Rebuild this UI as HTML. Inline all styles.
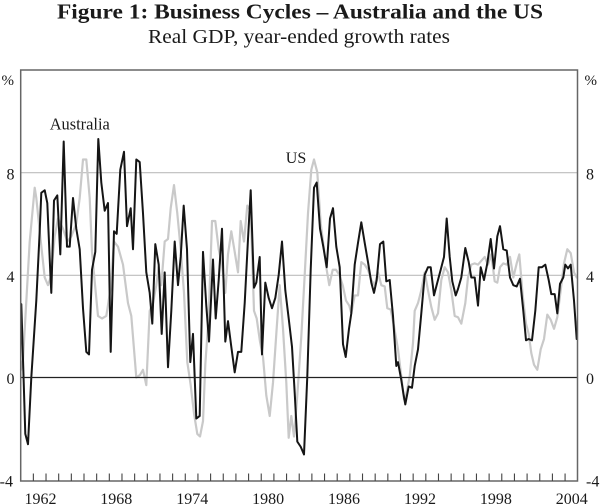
<!DOCTYPE html>
<html>
<head>
<meta charset="utf-8">
<style>
html,body{margin:0;padding:0;background:#fff;}
svg{display:block;}
text{font-family:"Liberation Serif","Times New Roman",serif;fill:#1a1a1a;}
</style>
</head>
<body>
<svg width="600" height="504" viewBox="0 0 600 504" xmlns="http://www.w3.org/2000/svg">
<rect width="600" height="504" fill="#fff"/>
<!-- Titles -->
<text x="300" y="18.5" font-size="21" font-weight="bold" text-anchor="middle" textLength="486" lengthAdjust="spacingAndGlyphs">Figure 1: Business Cycles – Australia and the US</text>
<text x="299" y="43" font-size="20" text-anchor="middle" textLength="302" lengthAdjust="spacingAndGlyphs">Real GDP, year-ended growth rates</text>

<!-- gridlines -->
<line x1="20.7" y1="172.7" x2="577.5" y2="172.7" stroke="#bdbdbd" stroke-width="1.2"/>
<line x1="20.7" y1="275.3" x2="577.5" y2="275.3" stroke="#bdbdbd" stroke-width="1.2"/>

<!-- series -->
<g transform="translate(0,377.5) scale(1,-25.65)" fill="none" stroke-linejoin="round" stroke-linecap="round">
<polyline vector-effect="non-scaling-stroke" stroke="#c9c9c9" stroke-width="2.2" points="21,0.3 23,0.7 29.7,5.3 34.7,7.4 36.3,7 39.7,5.7 44.7,3.9 48,3.6 50.7,3.9 54.7,5.5 58,6.2 63,5.8 67.3,5.3 71.3,5.5 76.3,6 79.7,7 83,8.5 86.3,8.5 89.7,7 92,4.9 95.3,3.5 98,2.4 102,2.3 106.3,2.4 110.7,3.5 114,5.3 118,5.1 123,4.4 126.3,3.4 128,2.9 131.3,2.4 136.3,0 140,0.1 143,0.3 146.3,-0.3 149.7,2.6 153,2.9 156.3,3.6 158.7,4.3 161.3,3.6 164.7,5.3 168,5.4 170.7,6.6 174,7.5 177.3,6.4 180.7,5 184,3.3 187.3,0.6 190.7,-0.3 194,-1.4 197.3,-2.2 200,-2.3 203,-1.7 205.3,0.5 208.7,2.4 212,6.1 215.3,6.1 218.7,5 222,4.4 225.3,3.3 228,4.8 231.3,5.7 234.7,4.9 238,4.1 240.7,6.1 244,5.3 247.3,6.7 250.7,6.5 254,2.6 256.7,2.3 260,1.4 263,0.8 266.3,-0.7 269.7,-1.5 273,-0.2 276.3,1.7 279.7,3.6 283,1.9 286.3,-0.2 288.7,-2.35 291.3,-1.5 294,-2.3 297.3,-0.7 301.3,1.6 304.7,4 308,6.4 311.3,8.1 314,8.5 317.3,8 320.7,6 324,5 326.7,4.2 329.3,3.6 332.7,4.2 336,4.2 339.3,4 342.7,3.6 346,3 349.3,2.8 351.3,2.5 354.7,3.2 358,3.2 361.3,4.5 364.7,4.4 368,4.2 371.3,3.8 374.7,3.6 378,4.1 381.3,3.6 384.7,3.55 387.3,2.7 390.7,2.65 394,2 398,1.1 401.3,0.05 404,-0.85 406.3,-0.65 409.7,0.05 413,1.35 414.7,2.6 418,2.9 421.3,3.4 424.7,4.1 428,3.4 431.3,2.75 434.7,2.25 438,2.5 441.3,3.8 444.7,4.3 448,4.1 451.3,3.4 454.7,2.4 458,2.35 461.3,2.1 465.3,2.9 468,3.9 471.3,4.4 474.7,4.45 478,4.4 481.3,4.55 484.7,4.7 488,4.4 491.3,4.8 494.7,3.75 497.3,3.7 500,4.3 503.3,4.45 506.7,4.4 510,4.7 513.3,3.9 516.7,4.45 519.3,4.8 522.7,3.2 526,2.1 528.7,1.7 531.3,0.95 534,0.5 537.3,0.3 540.7,1.1 544,1.5 547.3,2.45 550.7,2.25 554,1.9 557.3,2.35 560.7,3.4 564,4.45 567.3,5 570.7,4.85 574,4.1 576.7,3.9"/>
<polyline vector-effect="non-scaling-stroke" stroke="#151515" stroke-width="2" points="21.3,2.86 25.3,-2.2 28,-2.6 31.3,0 36.3,3 39.7,5.7 41.3,7.2 44.7,7.3 47.3,6.8 50.3,4.1 51.3,3.3 54,6.9 57.3,7.1 60.3,4.8 63.7,9.2 67,5.1 69.7,5.1 73,7 76.3,5.8 79.7,5 83,2.7 86.3,1 89,0.9 92,4.2 95.3,4.9 98.3,9.3 101.3,7.6 104.7,6.5 108,6.8 110.7,1 114,5.7 116.7,5.6 120.3,8.1 124,8.8 127,5.9 130.7,6.6 133,5 136.3,8.5 139.7,8.4 143,6.4 146.3,4.1 149.7,3.3 152.3,2.1 155.3,5.2 158.7,4.4 161.7,1.7 164.7,4.1 168,0.4 171.3,2.6 174.7,5.3 178,3.6 180.7,4.7 183.7,6.7 187,5 190.3,0.6 193,1.7 196.3,-1.6 199.7,-1.5 203,4.9 206.3,2.8 209,1.4 213,4.6 215.7,2.3 218.7,3.8 222,5.8 225.3,1.4 228,2.2 231.3,1.2 234.7,0.2 238,1 241.3,1 244.7,2.9 248,5.4 250.7,7.3 254,3.5 256.3,3.7 259.7,4.7 262,0.9 265.3,3.7 268.7,3.1 272,2.7 275.3,3.1 278.7,4 282,5.3 285.3,3.4 288.7,2.3 292,1.2 294.7,-0.6 297.3,-2.5 300.7,-2.7 304,-3 307.3,0.05 310.7,4.2 314,7.4 316.7,7.6 320,5.8 323.3,5.1 326.7,4.3 330,6.2 333,6.6 336.3,5.1 339.7,4.3 343,1.3 345.7,0.8 349,1.9 351.3,2.5 354.7,4.4 358,5.25 361.3,6.05 364.7,5.25 368,4.5 371.3,3.7 374,3.3 376.7,3.8 380,5.2 383.3,5.3 386.3,3.75 389.7,3.8 393,2.4 396.3,0.45 398,0.6 401.3,-0.1 403.7,-0.7 405.3,-1.05 408.7,-0.35 412,-0.4 414.7,0.45 418,1.1 421.3,2.5 424.7,4 428,4.3 430.7,4.3 434,3.2 437.3,3.7 440.7,4.2 444,4.7 446.7,6.2 449.7,4.7 452.3,3.75 455.7,3.2 458,3.45 461.3,3.9 465.3,5.05 468.7,4.5 471.3,3.9 474.7,3.9 478,2.8 480.7,4.3 484,3.8 487.3,4.45 490.7,5.4 494,4.25 497.3,5.5 500,5.9 503.3,5 506.7,4.95 510,3.9 513.3,3.6 516.7,3.55 520,3.85 523.3,2.6 526,1.45 528.7,1.5 532,1.45 535.3,2.6 538.7,4.3 542,4.3 545.3,4.4 548.7,3.8 551.3,3.25 554.7,3.25 557.3,2.5 560,3.65 563.3,3.9 565.3,4.4 568,4.25 570.7,4.4 574,3 576.7,1.5"/>
</g>

<!-- zero line -->
<line x1="20.7" y1="377.5" x2="577.5" y2="377.5" stroke="#222" stroke-width="1.2"/>

<!-- frame -->
<rect x="20.7" y="70" width="556.8" height="411" fill="none" stroke="#666" stroke-width="1.5"/>

<!-- ticks -->
<path stroke="#444" stroke-width="1.1" fill="none" d="M33.36 473.5V481M46.02 473.5V481M58.68 473.5V481M71.34 473.5V481M84 473.5V481M96.66 473.5V481M109.32 473.5V481M121.98 473.5V481M134.64 473.5V481M147.3 473.5V481M159.96 473.5V481M172.62 473.5V481M185.28 473.5V481M197.94 473.5V481M210.6 473.5V481M223.26 473.5V481M235.92 473.5V481M248.58 473.5V481M261.24 473.5V481M273.9 473.5V481M286.56 473.5V481M299.22 473.5V481M311.88 473.5V481M324.54 473.5V481M337.2 473.5V481M349.86 473.5V481M362.52 473.5V481M375.18 473.5V481M387.84 473.5V481M400.5 473.5V481M413.16 473.5V481M425.82 473.5V481M438.48 473.5V481M451.14 473.5V481M463.8 473.5V481M476.46 473.5V481M489.12 473.5V481M501.78 473.5V481M514.44 473.5V481M527.1 473.5V481M539.76 473.5V481M552.42 473.5V481M565.08 473.5V481"/>

<!-- series labels -->
<text x="49.7" y="129.5" font-size="16.4">Australia</text>
<text x="296" y="163" font-size="16" text-anchor="middle">US</text>

<!-- y labels left -->
<text x="1.5" y="85" font-size="15">%</text>
<text x="14.5" y="179.5" font-size="16" text-anchor="end">8</text>
<text x="14.5" y="281.8" font-size="16" text-anchor="end">4</text>
<text x="14.5" y="384" font-size="16" text-anchor="end">0</text>
<text x="13" y="486.6" font-size="16" text-anchor="end">-4</text>

<!-- y labels right -->
<text x="584.5" y="85" font-size="15">%</text>
<text x="586" y="179.5" font-size="16">8</text>
<text x="586" y="281.8" font-size="16">4</text>
<text x="586" y="384" font-size="16">0</text>
<text x="586" y="486.6" font-size="16">-4</text>

<!-- x labels -->
<g font-size="16" text-anchor="middle">
<text x="40.5" y="504">1962</text>
<text x="116.3" y="504">1968</text>
<text x="192.2" y="504">1974</text>
<text x="268.1" y="504">1980</text>
<text x="344" y="504">1986</text>
<text x="420" y="504">1992</text>
<text x="495.9" y="504">1998</text>
<text x="571.8" y="504">2004</text>
</g>
</svg>
</body>
</html>
